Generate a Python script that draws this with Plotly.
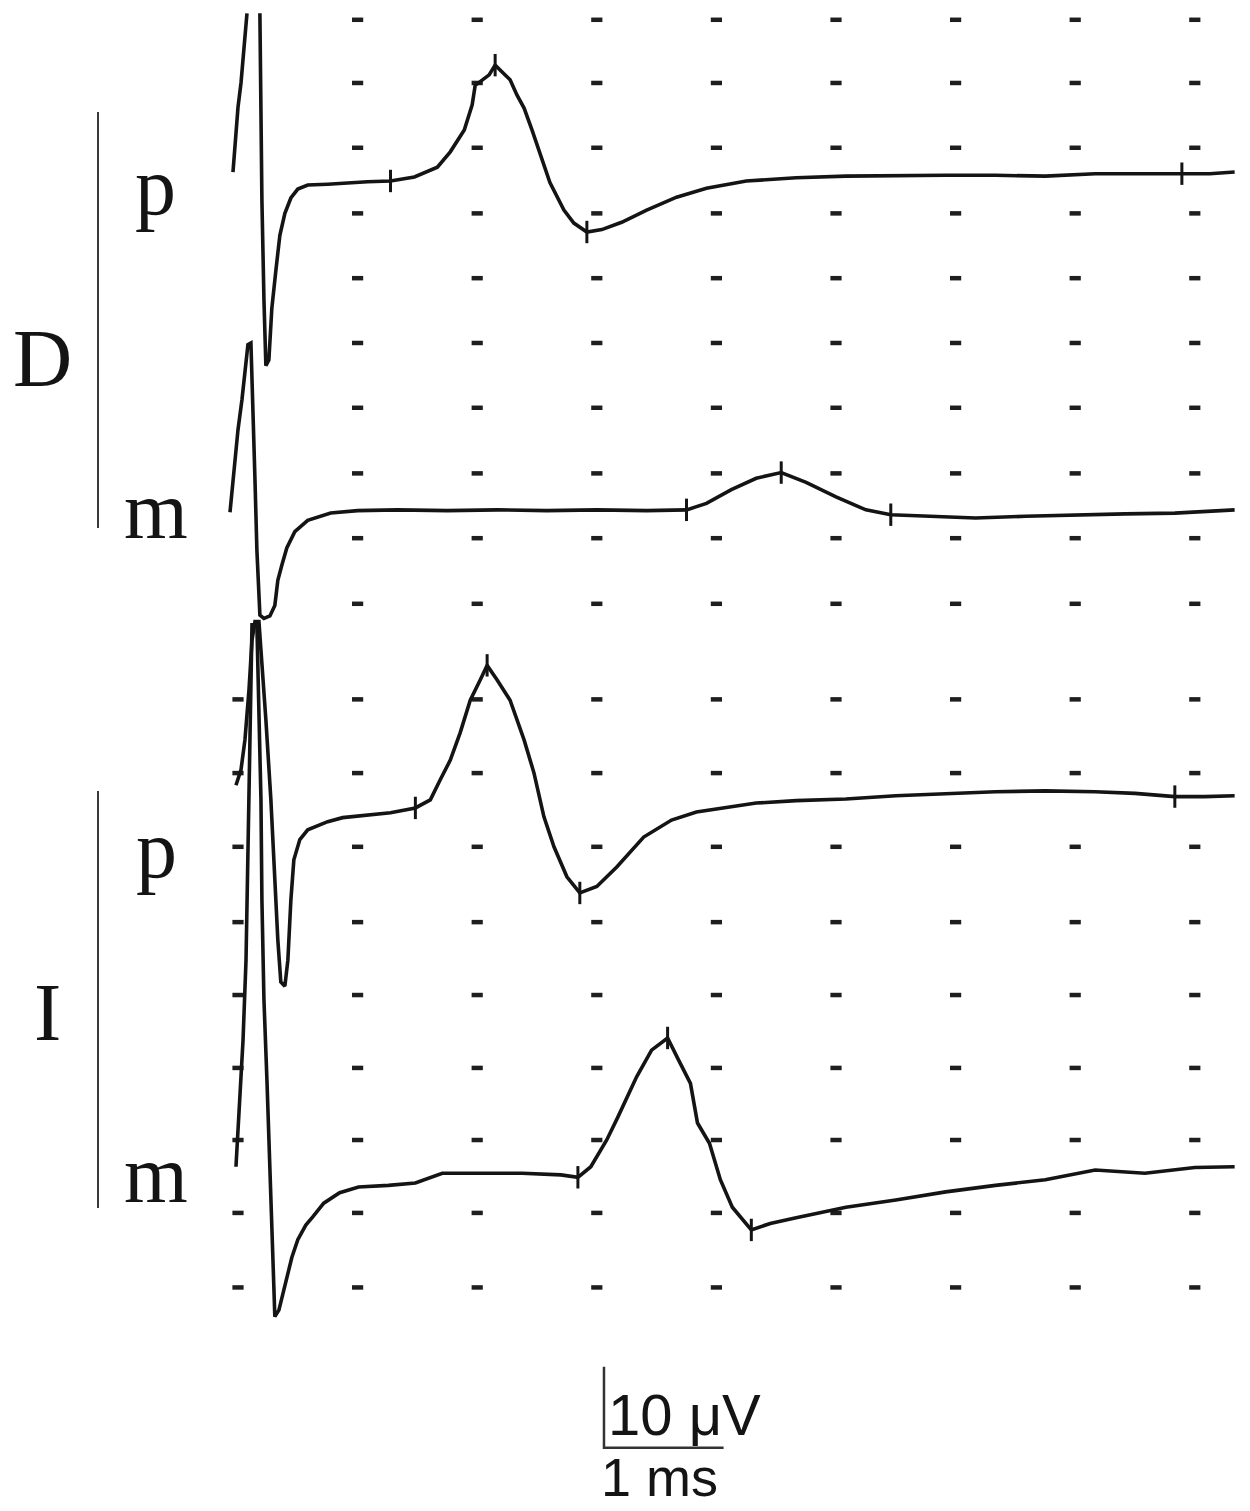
"""Nerve conduction traces (D / I, proximal and median) with scale bar."""

import plotly.graph_objects as go

# time in ms after stimulus, amplitude in µV relative to each trace baseline
dp_t = [-0.042, -0.025, 0.0, 0.025, 0.05, 0.075, None,
        0.183, 0.19, 0.2, 0.217, 0.233, 0.258, 0.283, 0.317, 0.35, 0.392, 0.442, 0.5,
        0.583, 0.75, 0.917, 1.083, 1.275, 1.475, 1.667, 1.775, 1.892, 1.958, 1.983,
        2.042, 2.1, 2.15, 2.208, 2.275, 2.333, 2.392, 2.458, 2.525, 2.608, 2.725,
        2.808, 2.917, 3.042, 3.208, 3.417, 3.667, 3.917, 4.25, 4.667, 5.083, 5.5,
        5.917, 6.333, 6.75, 7.167, 7.583, 7.892, 8.125, 8.333]
dp_v = [1.3, 4.9, 9.3, 12.3, 16.4, 20.9, None,
        20.9, 10.2, -2.2, -14.5, -22.6, -21.9, -15.5, -10.8, -6.5, -3.8, -1.9, -0.8,
        -0.3, -0.2, 0.0, 0.1, 0.2, 0.7, 1.9, 3.8, 6.5, 9.6, 12.0,
        12.7, 13.3, 14.5, 13.6, 12.7, 10.8, 9.2, 6.5, 3.6, 0.0, -3.4,
        -5.0, -6.1, -5.8, -4.9, -3.4, -1.8, -0.7, 0.2, 0.6, 0.8, 0.9,
        0.9, 0.9, 0.8, 1.1, 1.1, 1.1, 1.1, 1.3]
dp_cursor_t = [1.275, 2.15, 2.917, 7.892]
dp_cursor_v = [0.2, 14.5, -6.1, 1.1]

dm_t = [-0.067, -0.033, 0.0, 0.033, 0.058, 0.083, 0.108, 0.125, 0.142, 0.158,
        0.183, 0.217, 0.267, 0.308, 0.333, 0.367, 0.408, 0.475, 0.583, 0.775,
        1.0, 1.333, 1.75, 2.167, 2.583, 3.0, 3.417, 3.75, 3.917, 4.125, 4.333,
        4.542, 4.75, 5.0, 5.25, 5.458, 5.75, 6.167, 6.583, 7.0, 7.417, 7.833, 8.333]
dm_v = [0.3, 5.5, 10.5, 14.2, 17.9, 21.0, 21.2, 14.2, 4.3, -4.4,
        -12.4, -12.8, -12.5, -11.2, -8.1, -6.2, -4.1, -2.1, -0.7, 0.2,
        0.5, 0.6, 0.5, 0.6, 0.5, 0.6, 0.5, 0.6, 1.4, 3.1, 4.5,
        5.2, 4.0, 2.2, 0.6, 0.0, -0.2, -0.4, -0.2, 0.0, 0.1, 0.2, 0.6]
dm_cursor_t = [3.75, 4.542, 5.458]
dm_cursor_v = [0.6, 5.2, 0.0]

ip_t = [-0.017, 0.025, 0.058, 0.092, 0.117, 0.142, 0.175, 0.2, 0.233, 0.275,
        0.308, 0.333, 0.358, 0.392, 0.417, 0.442, 0.467, 0.517, 0.583, 0.75, 0.875,
        1.058, 1.275, 1.483, 1.608, 1.692, 1.775, 1.858, 1.942, 2.025, 2.083,
        2.167, 2.275, 2.392, 2.475, 2.558, 2.642, 2.75, 2.858, 3.0, 3.167, 3.392,
        3.625, 3.833, 4.083, 4.333, 4.667, 5.083, 5.5, 5.917, 6.333, 6.75, 7.167,
        7.5, 7.833, 8.083, 8.333]
ip_v = [2.6, 4.5, 8.2, 14.4, 20.5, 22.8, 22.8, 18.1, 10.7, 0.8,
        -9.1, -16.5, -21.7, -22.2, -19.0, -11.6, -6.6, -4.1, -2.9, -1.9, -1.4,
        -1.1, -0.8, -0.2, 0.8, 3.3, 5.7, 9.1, 13.1, 15.6, 17.4,
        15.6, 13.1, 8.2, 4.1, -1.3, -5.0, -8.7, -10.7, -9.9, -7.5, -3.8,
        -1.7, -0.7, -0.1, 0.4, 0.7, 0.9, 1.3, 1.6, 1.8, 1.9, 1.8,
        1.6, 1.2, 1.2, 1.3]
ip_cursor_t = [1.483, 2.083, 2.858, 7.833]
ip_cursor_v = [-0.2, 17.4, -10.7, 1.2]

im_t = [-0.017, 0.017, 0.042, 0.067, 0.083, 0.1, 0.117, 0.158, 0.175, 0.192,
        0.2, 0.217, 0.242, 0.267, 0.292, 0.308, 0.342, 0.4, 0.45, 0.5, 0.567,
        0.625, 0.717, 0.85, 1.008, 1.258, 1.483, 1.708, 2.058, 2.375, 2.7, 2.842,
        2.95, 3.083, 3.175, 3.333, 3.458, 3.592, 3.683, 3.783, 3.842, 3.942,
        4.033, 4.133, 4.292, 4.45, 4.667, 5.083, 5.5, 5.917, 6.333, 6.75,
        7.167, 7.583, 8.0, 8.333]
im_v = [1.5, 9.7, 17.1, 27.0, 40.6, 59.1, 68.4, 68.4, 59.1, 46.8,
        34.4, 22.1, 12.2, -0.1, -11.2, -17.0, -16.2, -12.8, -9.7, -7.5, -5.7,
        -4.7, -3.0, -1.7, -1.0, -0.8, -0.5, 0.7, 0.7, 0.7, 0.5, 0.2,
        1.5, 4.8, 7.6, 12.6, 15.9, 17.4, 14.7, 11.8, 6.9, 4.4,
        -0.1, -3.5, -6.3, -5.5, -4.8, -3.5, -2.6, -1.6, -0.8, -0.1,
        1.1, 0.7, 1.4, 1.5]
im_cursor_t = [2.842, 3.592, 4.292]
im_cursor_v = [0.2, 17.4, -6.3]

# screen grid (1 ms columns) on the original recording
grid_cols = [0, 1, 2, 3, 4, 5, 6, 7, 8]
grid_rows_upper = [184.1, 176.3, 168.3, 160.2, 152.2, 144.2, 136.2, 128.1, 120.1, 112.0]
grid_rows_lower = [100.2, 91.1, 82.0, 72.7, 63.7, 54.7, 45.8, 36.8, 27.6]

scale_ms = 1
scale_uv = 10

W, H = 1250, 1511
PX_PER_MS, T0_PX = 119.6, 238
PX_PER_UV = 8.1

baselines = {"D p": 164, "D m": 123, "I p": 87, "I m": 41}
INK = "#141414"

fig = go.Figure()

# grid dots
gx, gy = [], []
for r in grid_rows_upper:
    for c in grid_cols[1:]:
        gx.append(c)
        gy.append(r)
for r in grid_rows_lower:
    for c in grid_cols:
        gx.append(c)
        gy.append(r)
fig.add_trace(go.Scatter(
    x=gx, y=gy, mode="markers", hoverinfo="skip", showlegend=False,
    marker=dict(symbol="line-ew", size=8, line=dict(width=4.5, color="#1e1e1e")),
))

traces = [
    ("D p", dp_t, dp_v, dp_cursor_t, dp_cursor_v),
    ("D m", dm_t, dm_v, dm_cursor_t, dm_cursor_v),
    ("I p", ip_t, ip_v, ip_cursor_t, ip_cursor_v),
    ("I m", im_t, im_v, im_cursor_t, im_cursor_v),
]
for name, t, v, ct, cv in traces:
    base = baselines[name]
    y = [None if val is None else val + base for val in v]
    fig.add_trace(go.Scatter(
        x=t, y=y, mode="lines", name=name, showlegend=False,
        line=dict(color=INK, width=3.6), connectgaps=False,
    ))
    # cursor ticks
    fig.add_trace(go.Scatter(
        x=ct, y=[val + base for val in cv], mode="markers", showlegend=False,
        hoverinfo="skip",
        marker=dict(symbol="line-ns", size=16, line=dict(width=3, color=INK)),
    ))

# calibration bar
bar_t, bar_v = 3.06, 7.8
fig.add_trace(go.Scatter(
    x=[bar_t, bar_t, bar_t + scale_ms], y=[bar_v + scale_uv, bar_v, bar_v],
    mode="lines", showlegend=False, hoverinfo="skip",
    line=dict(color="#333333", width=2.5),
))


def px(x):
    return x / W


def py(y):
    return 1 - y / H


serif = dict(family="Liberation Serif, Times New Roman, serif", size=82, color=INK)
sans = dict(family="Liberation Sans, Arial, sans-serif", color=INK)

labels = [
    ("D", 42, 358, serif),
    ("p", 155, 187, serif),
    ("m", 156, 510, serif),
    ("I", 47, 1012, serif),
    ("p", 156, 849, serif),
    ("m", 156, 1174, serif),
]
annotations = [
    dict(text=txt, x=px(x), y=py(y), xref="paper", yref="paper",
         showarrow=False, font=f, xanchor="center", yanchor="middle")
    for txt, x, y, f in labels
]
annotations.append(dict(
    text="10 μV", x=px(606), y=py(1414), xref="paper", yref="paper",
    showarrow=False, font=dict(sans, size=58), xanchor="left", yanchor="middle",
))
annotations.append(dict(
    text="1 ms", x=px(599), y=py(1477), xref="paper", yref="paper",
    showarrow=False, font=dict(sans, size=54), xanchor="left", yanchor="middle",
))

shapes = [
    dict(type="line", xref="paper", yref="paper", x0=px(98), x1=px(98),
         y0=py(112), y1=py(528), line=dict(color="#3a3a3a", width=2)),
    dict(type="line", xref="paper", yref="paper", x0=px(98), x1=px(98),
         y0=py(791), y1=py(1208), line=dict(color="#3a3a3a", width=2)),
]

fig.update_layout(
    width=W, height=H,
    margin=dict(l=0, r=0, t=0, b=0),
    plot_bgcolor="white", paper_bgcolor="white",
    xaxis=dict(range=[-T0_PX / PX_PER_MS, (W - T0_PX) / PX_PER_MS],
               visible=False, fixedrange=True),
    yaxis=dict(range=[0, H / PX_PER_UV], visible=False, fixedrange=True),
    annotations=annotations,
    shapes=shapes,
)

# drop the default page margin so the figure sits flush with the window
fig.write_html(
    "out.html",
    config={"displayModeBar": False},
    post_script="document.body.style.margin='0px';",
)
